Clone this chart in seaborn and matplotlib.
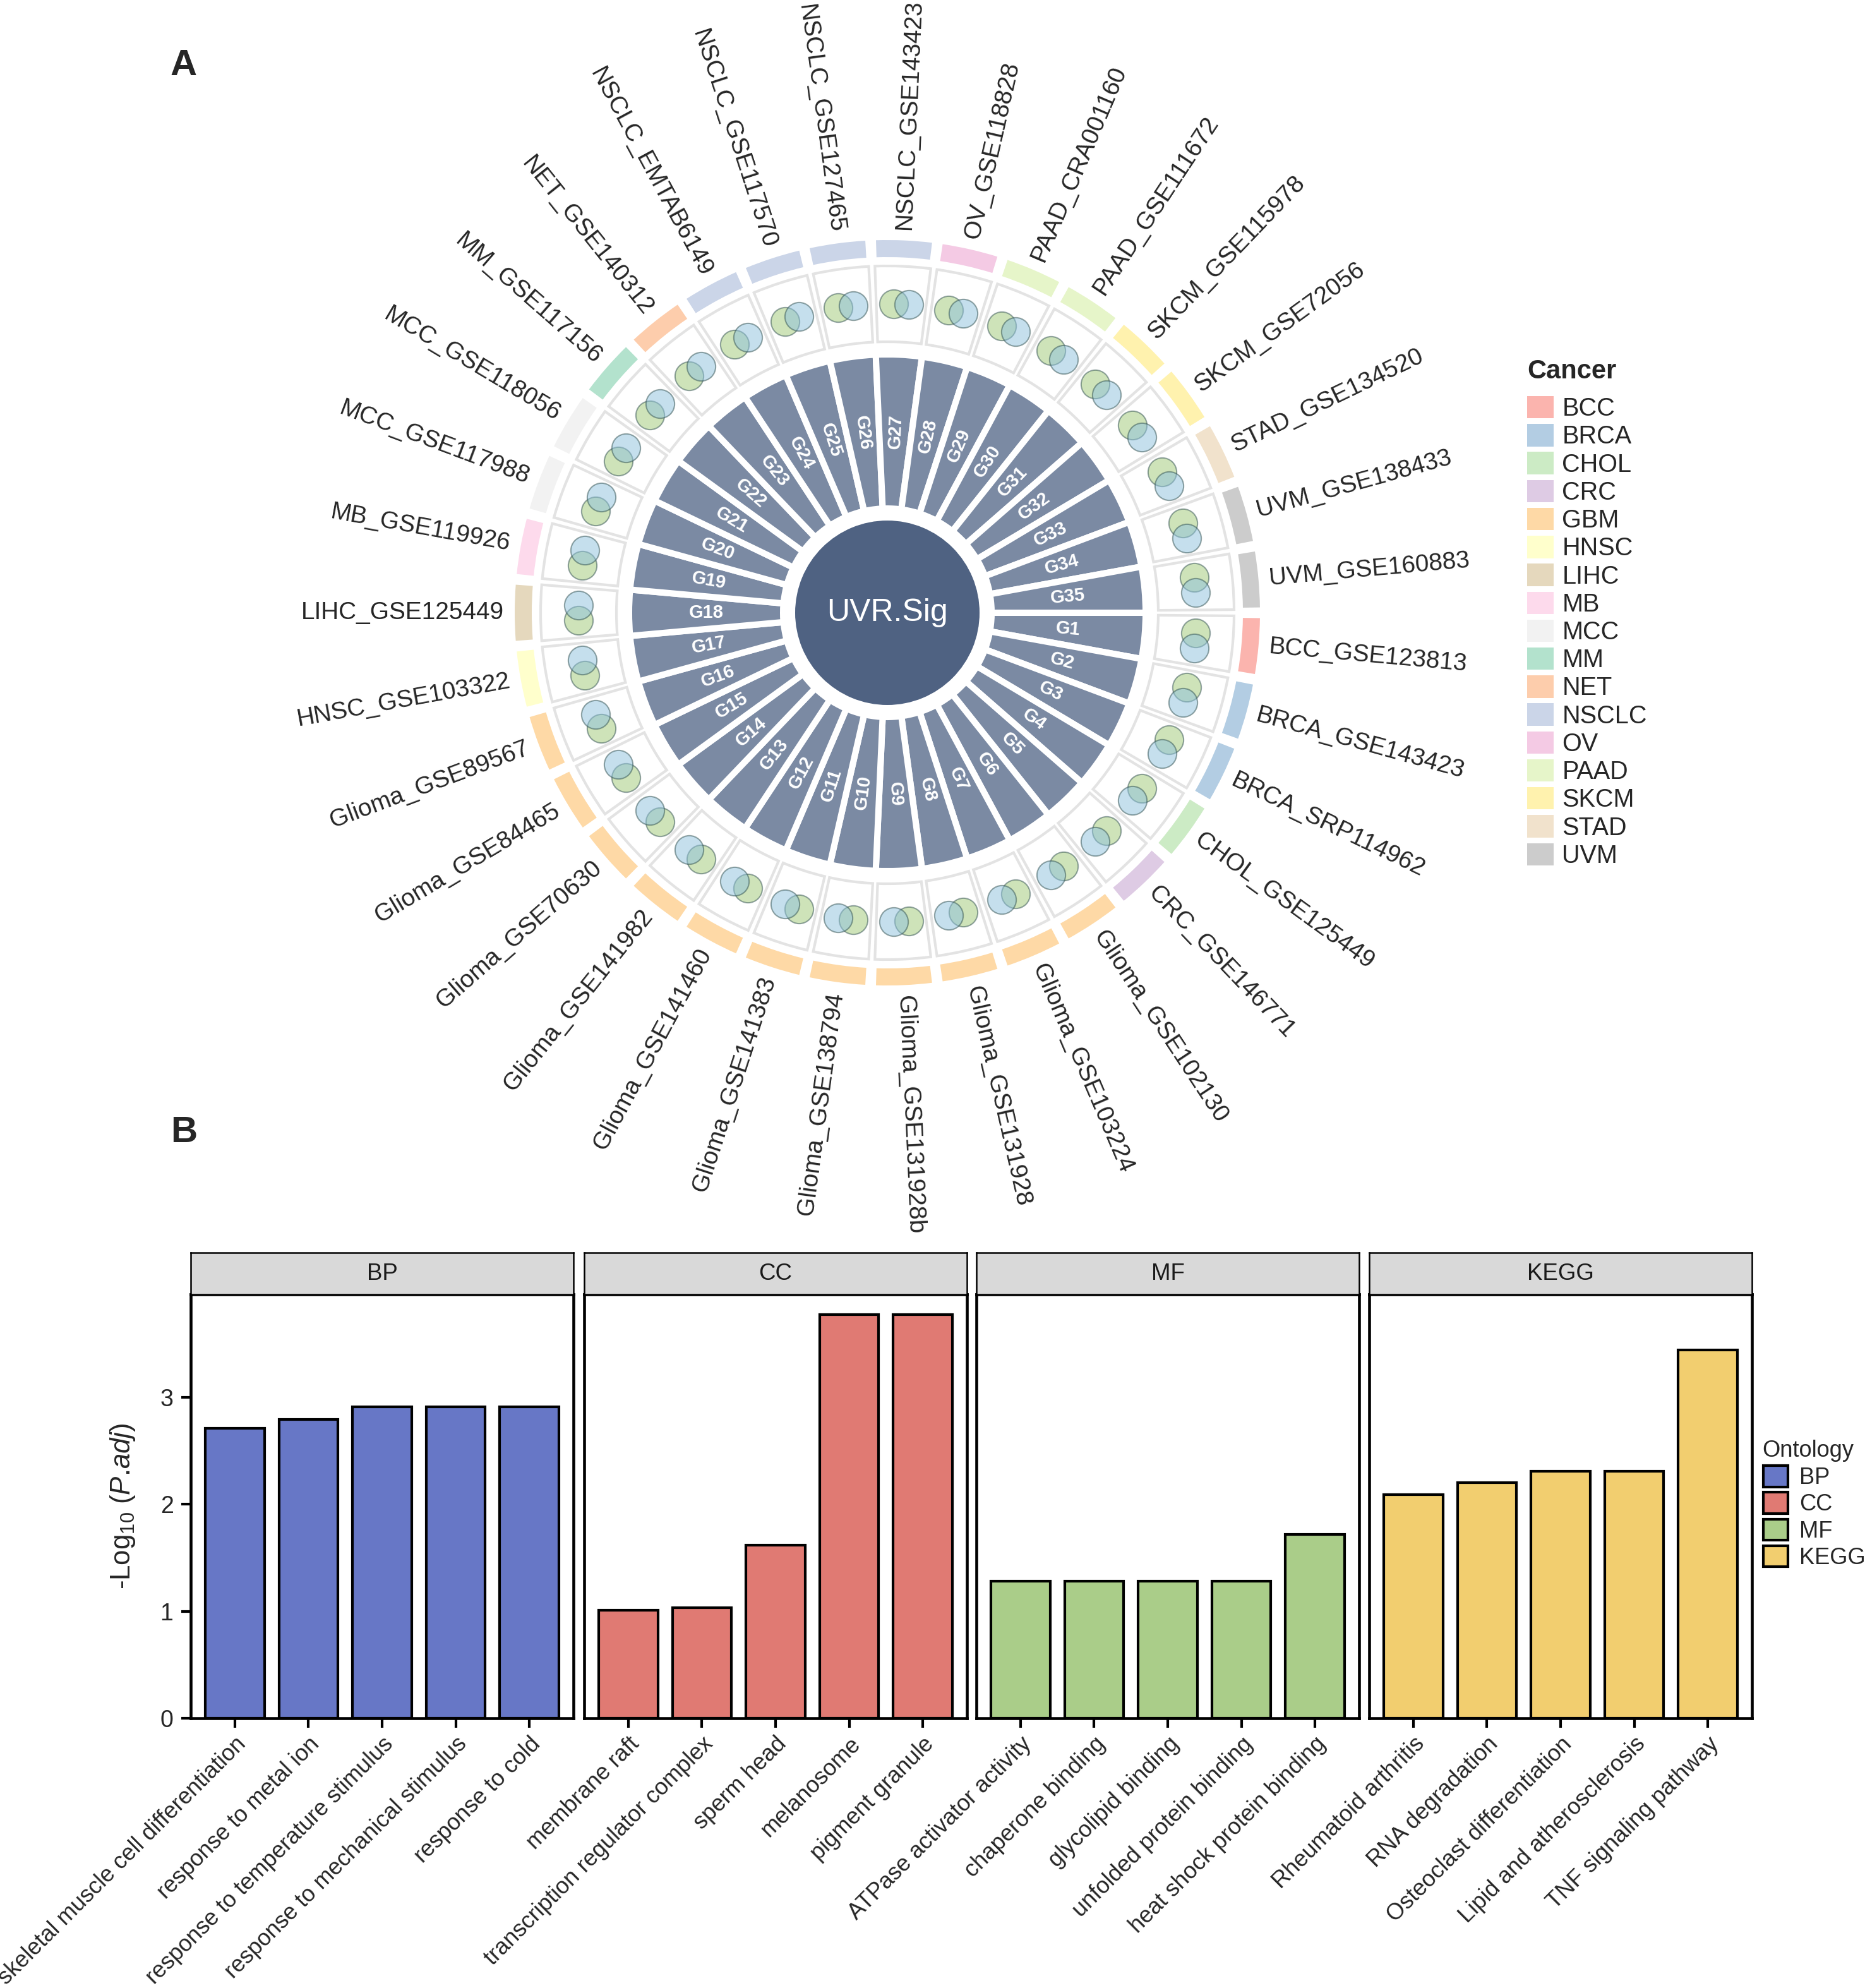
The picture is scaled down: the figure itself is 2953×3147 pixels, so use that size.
import numpy as np
import pandas as pd
import matplotlib
matplotlib.use('Agg')
import matplotlib.pyplot as plt
import seaborn as sns
from matplotlib.patches import Patch

sns.set_style('white')
plt.rcParams['font.family'] = ['Liberation Sans', 'DejaVu Sans']
plt.rcParams['mathtext.fontset'] = 'custom'
plt.rcParams['mathtext.rm'] = 'Liberation Sans'
plt.rcParams['mathtext.it'] = 'Liberation Sans:italic'

# ---------------- data, panel A ----------------
datasets = ['BCC_GSE123813', 'BRCA_GSE143423', 'BRCA_SRP114962', 'CHOL_GSE125449',
            'CRC_GSE146771', 'Glioma_GSE102130', 'Glioma_GSE103224', 'Glioma_GSE131928',
            'Glioma_GSE131928b', 'Glioma_GSE138794', 'Glioma_GSE141383', 'Glioma_GSE141460',
            'Glioma_GSE141982', 'Glioma_GSE70630', 'Glioma_GSE84465', 'Glioma_GSE89567',
            'HNSC_GSE103322', 'LIHC_GSE125449', 'MB_GSE119926', 'MCC_GSE117988',
            'MCC_GSE118056', 'MM_GSE117156', 'NET_GSE140312', 'NSCLC_EMTAB6149',
            'NSCLC_GSE117570', 'NSCLC_GSE127465', 'NSCLC_GSE143423', 'OV_GSE118828',
            'PAAD_CRA001160', 'PAAD_GSE111672', 'SKCM_GSE115978', 'SKCM_GSE72056',
            'STAD_GSE134520', 'UVM_GSE138433', 'UVM_GSE160883']
dataset_cancer = ['BCC', 'BRCA', 'BRCA', 'CHOL', 'CRC', 'GBM', 'GBM', 'GBM', 'GBM', 'GBM',
                  'GBM', 'GBM', 'GBM', 'GBM', 'GBM', 'GBM', 'HNSC', 'LIHC', 'MB', 'MCC',
                  'MCC', 'MM', 'NET', 'NSCLC', 'NSCLC', 'NSCLC', 'NSCLC', 'OV', 'PAAD',
                  'PAAD', 'SKCM', 'SKCM', 'STAD', 'UVM', 'UVM']
genes = ['G1', 'G2', 'G3', 'G4', 'G5', 'G6', 'G7', 'G8', 'G9', 'G10', 'G11', 'G12',
         'G13', 'G14', 'G15', 'G16', 'G17', 'G18', 'G19', 'G20', 'G21', 'G22', 'G23',
         'G24', 'G25', 'G26', 'G27', 'G28', 'G29', 'G30', 'G31', 'G32', 'G33', 'G34', 'G35']
gene_score = [1, 1, 1, 1, 1, 1, 1, 1, 1, 1, 1, 1, 1, 1, 1, 1, 1, 1, 1, 1, 1, 1, 1, 1,
              1, 1, 1, 1, 1, 1, 1, 1, 1, 1, 1]
cancer_levels = ['BCC', 'BRCA', 'CHOL', 'CRC', 'GBM', 'HNSC', 'LIHC', 'MB', 'MCC',
                 'MM', 'NET', 'NSCLC', 'OV', 'PAAD', 'SKCM', 'STAD', 'UVM']

# ---------------- data, panel B ----------------
ontologies = ['BP', 'CC', 'MF', 'KEGG']
bp_terms = ['skeletal muscle cell differentiation', 'response to metal ion',
            'response to temperature stimulus', 'response to mechanical stimulus',
            'response to cold']
bp_vals = [2.71, 2.79, 2.91, 2.91, 2.91]
cc_terms = ['membrane raft', 'transcription regulator complex', 'sperm head',
            'melanosome', 'pigment granule']
cc_vals = [1.01, 1.03, 1.62, 3.77, 3.77]
mf_terms = ['ATPase activator activity', 'chaperone binding', 'glycolipid binding',
            'unfolded protein binding', 'heat shock protein binding']
mf_vals = [1.28, 1.28, 1.28, 1.28, 1.72]
kegg_terms = ['Rheumatoid arthritis', 'RNA degradation', 'Osteoclast differentiation',
              'Lipid and atherosclerosis', 'TNF signaling pathway']
kegg_vals = [2.09, 2.20, 2.31, 2.31, 3.44]

# colours
cancer_colors = sns.color_palette('Pastel1', 9).as_hex() + sns.color_palette('Pastel2', 8).as_hex()
cancer_pal = dict(zip(cancer_levels, cancer_colors))
onto_pal = {'BP': '#6777C6', 'CC': '#E07A73', 'MF': '#AACD89', 'KEGG': '#F2CE6F'}

W, H = 2953, 3147
fig = plt.figure(figsize=(W / 300, H / 300), dpi=300)

# ================= Panel A : circular plot =================
cx, cy, R = 1405, 970, 960
axA = fig.add_axes([(cx - R) / W, 1 - (cy + R) / H, 2 * R / W, 2 * R / H], projection='polar')
axA.set_theta_zero_location('E')
axA.set_theta_direction(-1)
axA.set_ylim(0, R)
axA.set_axis_off()

# radii in pixels
r_core, r_bar0, r_bar1 = 146, 165, 409
r_box0, r_box1, r_arc0, r_arc1, r_lab = 429, 549, 563, 590, 607
r_venn = 489

n = len(datasets)
step = 2 * np.pi / n
theta = (np.arange(n) + 0.5) * step

# centre disc
axA.bar(0, r_core, width=2 * np.pi, bottom=0, color='#4F6282', edgecolor='none')
axA.text(0, 0, 'UVR.Sig', ha='center', va='center', color='white', fontsize=12)

# gene bars
axA.bar(theta, np.array(gene_score) * (r_bar1 - r_bar0), width=step, bottom=r_bar0,
        color='#7B8AA3', edgecolor='white', linewidth=2.4)

# boxes
axA.bar(theta, r_box1 - r_box0, width=step * 0.9, bottom=r_box0,
        facecolor='none', edgecolor='#E3E3E3', linewidth=1.0)

# cancer arcs
axA.bar(theta, r_arc1 - r_arc0, width=step * 0.84, bottom=r_arc0,
        color=[cancer_pal[c] for c in dataset_cancer], edgecolor='none')

# venn-like pairs
dth = 12 / r_venn
axA.scatter(theta - dth, np.full(n, r_venn), s=118, color='#9FC975', alpha=0.5,
            edgecolor='#2F4F4F', linewidth=0.5, zorder=3)
axA.scatter(theta + dth, np.full(n, r_venn), s=118, color='#8DC1DD', alpha=0.5,
            edgecolor='#2F4F4F', linewidth=0.5, zorder=4)

for i in range(n):
    phi = -np.degrees(theta[i])
    if np.cos(np.radians(phi)) >= 0:
        rot, ha = phi, 'left'
    else:
        rot, ha = phi + 180, 'right'
    axA.text(theta[i], r_lab, datasets[i], rotation=rot, rotation_mode='anchor',
             ha=ha, va='center', fontsize=9.3)
    axA.text(theta[i], (r_bar0 + r_bar1) / 2, genes[i], rotation=rot, rotation_mode='anchor',
             ha='center', va='center', fontsize=7, color='white', fontweight='bold')

fig.text(291 / W, 1 - 104 / H, 'A', fontsize=14, fontweight='bold', ha='center', va='center')

# cancer legend (title drawn apart to control the gap)
fig.text(2418 / W, 1 - 588 / H, 'Cancer', fontsize=10, fontweight='bold', ha='left', va='center')
handles = [Patch(facecolor=cancer_pal[c], edgecolor='none') for c in cancer_levels]
fig.legend(handles, cancer_levels, loc='upper left',
           bbox_to_anchor=(2418 / W, 1 - 627 / H), frameon=False, fontsize=9.5,
           handlelength=1.05, handleheight=1.0, labelspacing=0.125,
           handletextpad=0.35, borderpad=0, borderaxespad=0)

# ================= Panel B : enrichment bars =================
terms_all = [bp_terms, cc_terms, mf_terms, kegg_terms]
vals_all = [bp_vals, cc_vals, mf_vals, kegg_vals]
lefts = [302, 925, 1546, 2168]
pw = 606
p_top, p_bot = 2049, 2720
strip_h = 66

for k, onto in enumerate(ontologies):
    df = pd.DataFrame({'term': terms_all[k], 'logp': vals_all[k]})
    ax = fig.add_axes([lefts[k] / W, 1 - p_bot / H, pw / W, (p_bot - p_top) / H])
    sns.barplot(data=df, x='term', y='logp', color=onto_pal[onto], saturation=1,
                edgecolor='black', linewidth=1.0, width=0.8, ax=ax)
    ax.set_xlim(-0.6, 4.6)
    ax.set_ylim(0, 3.96)
    ax.set_xlabel('')
    ax.set_ylabel('')
    for sp in ax.spines.values():
        sp.set_color('black')
        sp.set_linewidth(1.1)
    ax.set_xticks(range(5))
    ax.set_xticklabels(terms_all[k], rotation=45, ha='right', va='top',
                       rotation_mode='anchor', fontsize=8.7)
    ax.tick_params(axis='x', bottom=True, length=3.6, width=1.0, color='black', pad=2)
    if k == 0:
        ax.set_yticks([0, 1, 2, 3])
        ax.tick_params(axis='y', left=True, length=3.6, width=1.0, color='black',
                       labelsize=9, pad=3)
        ax.set_ylabel(r'-Log$_{10}$ ($\mathit{P}$.$\mathit{adj}$)', fontsize=10.5)
        ax.yaxis.set_label_coords(-0.14, 0.5)
    else:
        ax.tick_params(axis='y', left=False, labelleft=False)

    sax = fig.add_axes([lefts[k] / W, 1 - p_top / H, pw / W, strip_h / H])
    sax.set_facecolor('#D9D9D9')
    sax.set_xticks([])
    sax.set_yticks([])
    for sp in sax.spines.values():
        sp.set_color('black')
        sp.set_linewidth(0.6)
    sax.text(0.5, 0.5, onto, ha='center', va='center', fontsize=8.8, color='#1A1A1A',
             transform=sax.transAxes)

fig.text(291 / W, 1 - 1793 / H, 'B', fontsize=14, fontweight='bold', ha='center', va='center')

# ontology legend
fig.text(2790 / W, 1 - 2297 / H, 'Ontology', fontsize=8.7, ha='left', va='center')
ohandles = [Patch(facecolor=onto_pal[o], edgecolor='black', linewidth=1.0) for o in ontologies]
fig.legend(ohandles, ontologies, loc='upper left',
           bbox_to_anchor=(2792 / W, 1 - 2320 / H), frameon=False, fontsize=8.7,
           handlelength=1.08, handleheight=1.05, labelspacing=0.14,
           handletextpad=0.5, borderpad=0, borderaxespad=0)

fig.savefig('out.png', dpi=300)
